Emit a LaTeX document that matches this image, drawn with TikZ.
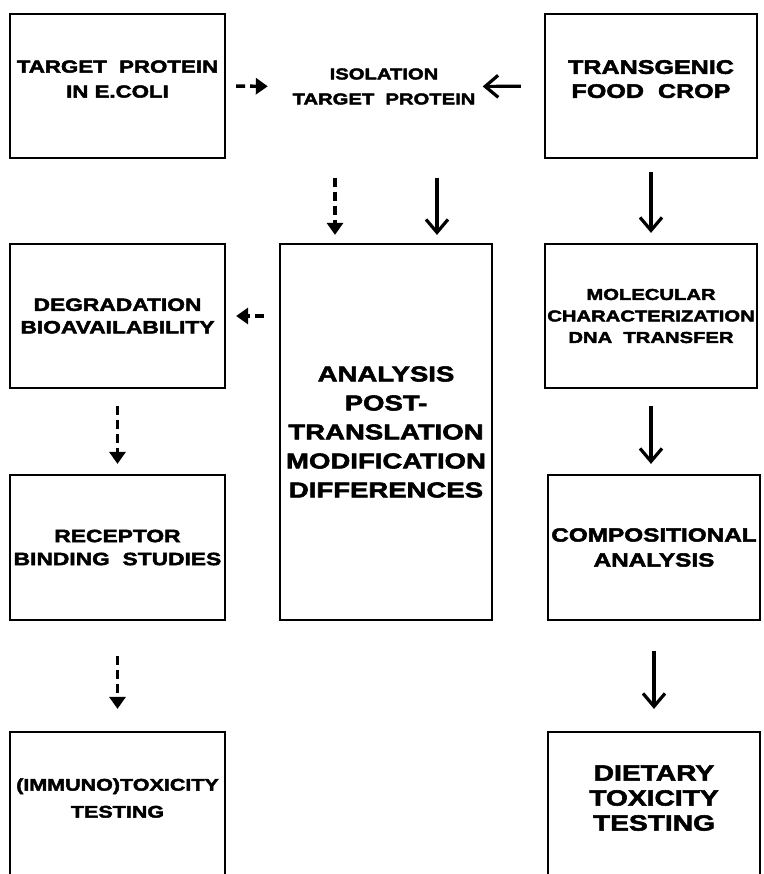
\documentclass[tikz,border=0pt]{standalone}
\usepackage{fontspec}
\setmainfont{Liberation Sans}[FakeStretch=1.28,BoldFeatures={FakeBold=2.6}]
\usetikzlibrary{arrows.meta}
\newcommand\boxfont[2]{\fontsize{#1}{#2}\selectfont\bfseries}
\tikzset{%
  box/.style={draw,line width=2.2pt,rectangle,inner sep=0pt,align=center,
    minimum width=212pt,minimum height=144pt},%
  solid arrow/.style={line width=3.2pt,-{Straight Barb[length=13pt,width=22pt]}},%
  dash arrow/.style={line width=3.4pt,dash pattern=on 9pt off 5pt,
    -{Triangle[length=12pt,width=16pt]}}%
}

\begin{document}
\begin{tikzpicture}[x=1pt,y=-1pt] % FLOW

%% frame

\useasboundingbox (0,0) rectangle (763,874);
\clip (0,0) rectangle (763,874);

%% boxes, top row (empty last line lifts the text a bit)

\node[box,minimum width=215pt,font=\boxfont{17.4}{25}] (ecoli) at (117.5,86)
    {TARGET~~PROTEIN\\IN E.COLI\\[-11pt]\mbox{}};
\node[inner sep=0pt,align=center,minimum width=185pt,minimum height=60pt,
    font=\boxfont{15.8}{25}] (isol) at (384,86.5) {ISOLATION\\TARGET~~PROTEIN};
\node[box,font=\boxfont{19.6}{24}] (crop) at (651,86)
    {TRANSGENIC\\FOOD~~CROP\\[-10pt]\mbox{}};

%% boxes, middle rows

\node[box,minimum width=215pt,font=\boxfont{17.8}{22.5}] (degr) at (117.5,316)
    {DEGRADATION\\BIOAVAILABILITY};
\node[box,minimum height=376pt,font=\boxfont{21.5}{29}] (anal) at (386,432)
    {ANALYSIS\\POST-\\TRANSLATION\\MODIFICATION\\DIFFERENCES};
\node[box,font=\boxfont{15.8}{21.5}] (molec) at (651,316)
    {MOLECULAR\\CHARACTERIZATION\\DNA~~TRANSFER};
\node[box,minimum width=215pt,minimum height=145pt,font=\boxfont{17.8}{23}]
    (recep) at (117.5,547.5) {RECEPTOR\\BINDING~~STUDIES};
\node[box,minimum height=145pt,font=\boxfont{19}{25}] (compo) at (654,547.5)
    {COMPOSITIONAL\\ANALYSIS};

%% boxes, bottom row (cut by the frame)

\node[box,minimum width=215pt,minimum height=148pt,font=\boxfont{16.8}{27}]
    (immuno) at (117.5,806) {(IMMUNO)TOXICITY\\TESTING\\[-11pt]\mbox{}};
\node[box,minimum height=148pt,font=\boxfont{22}{25}] (diet) at (654,806)
    {DIETARY\\TOXICITY\\TESTING\\[-9pt]\mbox{}};

%% arrows

\draw[dash arrow,shorten <=10pt,shorten >=23.5pt] (ecoli.east) -- (isol.west);
\draw[solid arrow,shorten <=23pt,shorten >=6pt] (crop.west) -- (isol.east);
\draw[dash arrow,shorten <=61pt,shorten >=8pt]
    ([xshift=-51pt]anal.north |- isol.south) -- ([xshift=-51pt]anal.north);
\draw[solid arrow,shorten <=61pt,shorten >=8pt]
    ([xshift=51pt]anal.north |- isol.south) -- ([xshift=51pt]anal.north);
\draw[solid arrow,shorten <=13pt,shorten >=10pt] (crop) -- (molec);
\draw[dash arrow,shorten <=15pt,shorten >=10pt] (anal.west |- degr.east)
    -- (degr.east);
\draw[dash arrow,shorten <=17pt,shorten >=10pt] (degr) -- (recep);
\draw[solid arrow,shorten <=17pt,shorten >=10pt] (molec.south)
    -- (molec.south |- compo.north);
\draw[dash arrow,shorten <=35pt,shorten >=22pt] (recep) -- (immuno);
\draw[solid arrow,shorten <=30pt,shorten >=22pt] (compo) -- (diet);

\end{tikzpicture}
\end{document}
